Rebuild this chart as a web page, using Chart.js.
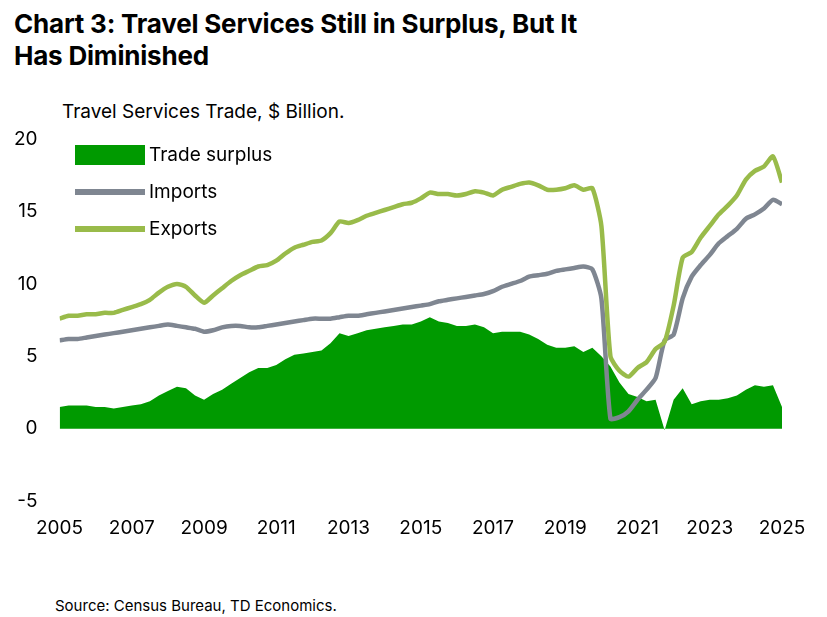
<!DOCTYPE html><html><head><meta charset="utf-8">
<script src="https://cdn.jsdelivr.net/npm/chart.js@4"></script>
<style>
body{margin:0;width:827px;height:617px;background:#fff;font-family:Inter,"Noto Sans",sans-serif;position:relative;overflow:hidden}
#t{position:absolute;left:14px;top:8px;font-size:26px;font-weight:700;line-height:32px;color:#000;letter-spacing:-0.2px}
#s{position:absolute;left:62px;top:100px;font-size:19px;color:#000}
#src{position:absolute;left:55px;top:596px;font-size:15px;color:#000}
#c{position:absolute;left:0;top:0}
.lg{position:absolute;left:75px;font-size:19px;color:#000;display:flex;align-items:center}
.lg i{display:inline-block;width:70px;margin-right:4px}
</style></head><body>
<div id="t">Chart 3: Travel Services Still in Surplus, But It<br>Has Diminished</div>
<div id="s">Travel Services Trade, $ Billion.</div>
<canvas id="c" width="827" height="548"></canvas>
<div class="lg" style="top:143px"><i style="height:20px;background:#009a00"></i>Trade surplus</div>
<div class="lg" style="top:180px"><i style="height:6px;background:#7f8691"></i>Imports</div>
<div class="lg" style="top:217px"><i style="height:6px;background:#99bb4a"></i>Exports</div>
<div id="src">Source: Census Bureau, TD Economics.</div>
<script>
const exportsQ=[7.6,7.8,7.8,7.9, 7.9,8.0,8.0,8.2, 8.4,8.6,8.9,9.4, 9.8,10.0,9.8,9.2, 8.7,9.2,9.7,10.2, 10.6,10.9,11.2,11.3, 11.6,12.1,12.5,12.7, 12.9,13.0,13.5,14.3, 14.2,14.4,14.7,14.9, 15.1,15.3,15.5,15.6, 15.9,16.3,16.2,16.2, 16.1,16.2,16.4,16.3, 16.1,16.5,16.7,16.9, 17.0,16.8,16.5,16.5, 16.6,16.8,16.5,16.6, 14.0,5.0,4.0,3.6, 4.2,4.6,5.5,6.0, 8.5,11.8,12.2,13.2, 14.0,14.8,15.4,16.1, 17.2,17.8,18.1,18.8, 17.0];
const importsQ=[6.1,6.2,6.2,6.3, 6.4,6.5,6.6,6.7, 6.8,6.9,7.0,7.1, 7.2,7.1,7.0,6.9, 6.7,6.8,7.0,7.1, 7.1,7.0,7.0,7.1, 7.2,7.3,7.4,7.5, 7.6,7.6,7.6,7.7, 7.8,7.8,7.9,8.0, 8.1,8.2,8.3,8.4, 8.5,8.6,8.8,8.9, 9.0,9.1,9.2,9.3, 9.5,9.8,10.0,10.2, 10.5,10.6,10.7,10.9, 11.0,11.1,11.2,11.0, 9.0,0.7,0.8,1.2, 2.0,2.7,3.5,6.1, 6.5,9.0,10.5,11.3, 12.0,12.8,13.3,13.8, 14.5,14.8,15.2,15.8, 15.5];
const startYear=2005;
const yTicks=[-5,0,5,10,15,20];
const xTicks=[2005,2007,2009,2011,2013,2015,2017,2019,2021,2023,2025];
const xs=exportsQ.map((_,i)=>startYear+i/4);
const pts=a=>a.map((v,i)=>({x:xs[i],y:v}));
const surplus=exportsQ.map((v,i)=>+(v-importsQ[i]).toFixed(2));
new Chart(document.getElementById('c'),{type:'line',
data:{datasets:[
{data:pts(exportsQ),borderColor:'#99bb4a',borderWidth:4.5,pointRadius:0,tension:0.2},
{data:pts(importsQ),borderColor:'#7f8691',borderWidth:4.5,pointRadius:0,tension:0.2},
{data:pts(surplus),borderWidth:0,backgroundColor:'#009a00',fill:'origin',pointRadius:0,tension:0}
]},
options:{responsive:false,animation:false,layout:{padding:{top:139,right:45,left:0}},
plugins:{legend:{display:false},tooltip:{enabled:false}},
scales:{x:{type:'linear',min:2005,max:2025,afterBuildTicks:s=>{s.ticks=xTicks.map(v=>({value:v}))},
 grid:{display:false},border:{display:false},ticks:{color:'#000',font:{size:19,family:'Inter'},maxRotation:0,padding:8,callback:v=>String(v)}},
 y:{min:-5,max:20,afterBuildTicks:s=>{s.ticks=yTicks.map(v=>({value:v}))},
 grid:{display:false},border:{display:false},ticks:{color:'#000',font:{size:19,family:'Inter'},padding:14}}}}
});
</script></body></html>
